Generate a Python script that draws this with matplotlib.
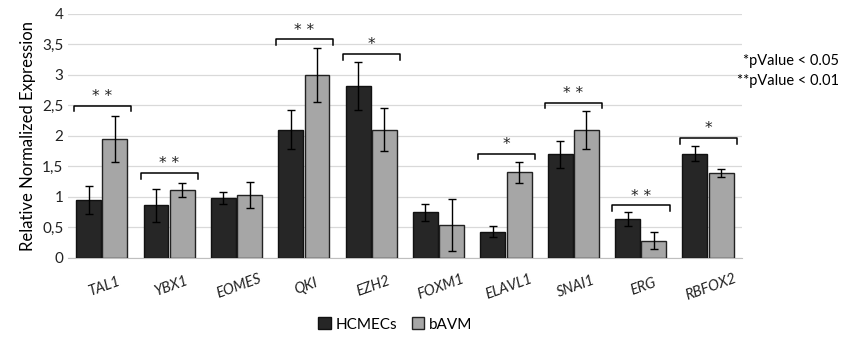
import numpy as np
import matplotlib.pyplot as plt

plt.rcParams['font.family'] = ['Lato', 'DejaVu Sans']

genes = ['TAL1', 'YBX1', 'EOMES', 'QKI', 'EZH2', 'FOXM1', 'ELAVL1', 'SNAI1', 'ERG', 'RBFOX2']
hcmec = [0.95, 0.86, 0.98, 2.10, 2.82, 0.75, 0.43, 1.70, 0.64, 1.71]
hcmec_err = [0.23, 0.27, 0.10, 0.32, 0.39, 0.14, 0.09, 0.22, 0.12, 0.12]
bavm = [1.95, 1.11, 1.03, 3.00, 2.10, 0.54, 1.40, 2.10, 0.28, 1.39]
bavm_err = [0.38, 0.12, 0.22, 0.44, 0.35, 0.43, 0.17, 0.31, 0.14, 0.06]
# significance brackets: gene index, bracket height, stars
sig_idx = [0, 1, 3, 4, 6, 7, 8, 9]
sig_y = [2.49, 1.39, 3.58, 3.34, 1.71, 2.54, 0.86, 1.96]
sig_txt = ['* *', '* *', '* *', '*', '*', '* *', '* *', '*']

fig = plt.figure(figsize=(8.41, 3.38), dpi=100)
ax = fig.add_axes([0.081, 0.237, 0.801, 0.722])

x = np.arange(len(genes))
w = 0.37
ax.bar(x - w / 2 - 0.01, hcmec, w, color='#262626', edgecolor='#111111', linewidth=1,
       yerr=hcmec_err, error_kw=dict(ecolor='black', capsize=3, elinewidth=1), label='HCMECs', zorder=3)
ax.bar(x + w / 2 + 0.01, bavm, w, color='#a6a6a6', edgecolor='#222222', linewidth=1,
       yerr=bavm_err, error_kw=dict(ecolor='black', capsize=3, elinewidth=1), label='bAVM', zorder=3)

for i, y, t in zip(sig_idx, sig_y, sig_txt):
    ax.plot([i - 0.42, i - 0.42, i + 0.43, i + 0.43], [y - 0.09, y, y, y - 0.09],
            color='black', lw=1.1, zorder=4)
    ax.text(i, y + 0.03, t, ha='center', va='bottom', fontsize=11, color='#222222',
            family='DejaVu Sans')

ax.set_xlim(-0.5, len(genes) - 0.5)
ax.set_ylim(0, 4)
ax.set_yticks(np.arange(0, 4.01, 0.5))
ax.set_yticklabels(['0', '0,5', '1', '1,5', '2', '2,5', '3', '3,5', '4'], fontsize=11)
ax.set_xticks(x)
ax.set_xticklabels(genes, rotation=20, ha='center', rotation_mode='anchor', fontsize=10.5, style='italic')
ax.tick_params(axis='x', pad=16)
ax.tick_params(length=0, colors='#222222')
ax.grid(axis='y', color='#d9d9d9', lw=0.9, zorder=0)
for s in ['top', 'right', 'left']:
    ax.spines[s].set_visible(False)
ax.spines['bottom'].set_color('#bfbfbf')
ax.set_ylabel('Relative Normalized Expression', fontsize=12)

fig.text(0.998, 0.82, '*pValue < 0.05', ha='right', va='center', fontsize=10.5)
fig.text(0.998, 0.76, '**pValue < 0.01', ha='right', va='center', fontsize=10.5)

fig.legend(loc='center', bbox_to_anchor=(0.47, 0.04), ncol=2, frameon=False, fontsize=11,
           handlelength=0.8, handleheight=0.8, handletextpad=0.3, columnspacing=1.0)

fig.savefig('out.png', dpi=100)
